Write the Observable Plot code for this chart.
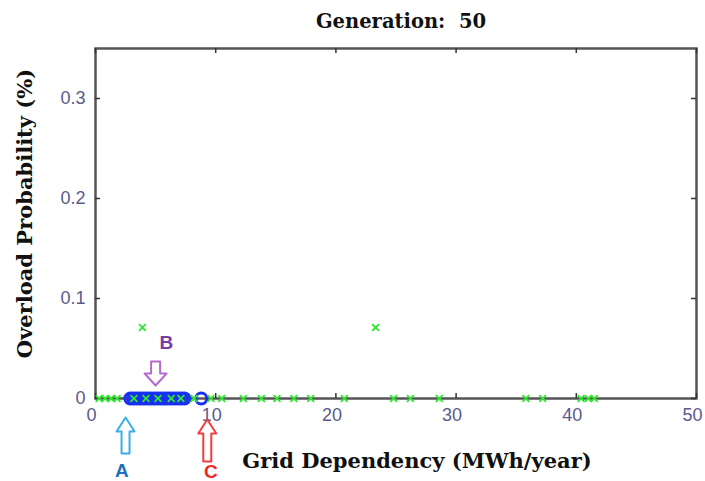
<!DOCTYPE html>
<html><head><meta charset="utf-8">
<script src="https://cdn.jsdelivr.net/npm/d3@7"></script>
<script src="https://cdn.jsdelivr.net/npm/@observablehq/plot@0.6"></script>
<style>body{margin:0;background:#fff;}</style>
</head><body><div id="chart"></div>
<script>
const titleText = "Generation:  50";
const xLabel = "Grid Dependency (MWh/year)";
const yLabel = "Overload Probability (%)";
const xTicks = [0, 10, 20, 30, 40, 50];
const yTicks = [0, 0.1, 0.2, 0.3];
const yTickLabels = ["0", "0.1", "0.2", "0.3"];
// Pareto front (blue circles), grid dependency at overload prob 0
const frontX = [2.9, 3.15, 3.4, 3.65, 3.9, 4.15, 4.4, 4.65, 4.9, 5.15, 5.4, 5.65, 5.9, 6.15, 6.4, 6.65, 6.9, 7.15, 7.4, 8.8];
const frontY = [0, 0, 0, 0, 0, 0, 0, 0, 0, 0, 0, 0, 0, 0, 0, 0, 0, 0, 0, 0];
// population (green x)
const popX = [0.3, 0.8, 1.3, 1.8, 3.2, 4.2, 5.2, 6.3, 7.1, 8.2, 9.6, 10.5, 12.3, 13.8, 15.1, 16.5, 17.9, 20.7, 24.8, 26.2, 28.6, 35.8, 37.2, 40.4, 41.0, 41.5, 3.9, 23.3];
const popY = [0, 0, 0, 0, 0, 0, 0, 0, 0, 0, 0, 0, 0, 0, 0, 0, 0, 0, 0, 0, 0, 0, 0, 0, 0, 0, 0.071, 0.071];
// annotations
const annLabels = ["A", "B", "C"];
const annLabelX = [2.2, 5.9, 9.6];
const annLabelY = [-0.072, 0.056, -0.073];
const annArrowX = [2.5, 5.0, 9.3];
const annArrowY = [-0.037, 0.025, -0.042];

const front = frontX.map((x, i) => ({x, y: frontY[i]}));
const pop = popX.map((x, i) => ({x, y: popY[i]}));
const ann = annLabels.map((t, i) => ({t, lx: annLabelX[i], ly: annLabelY[i], ax: annArrowX[i], ay: annArrowY[i]}));

function hollowArrow(shaftHalf, headHalf, headLen) {
  return {draw(ctx, l) {
    ctx.moveTo(-shaftHalf, 0);
    ctx.lineTo(-shaftHalf, -l + headLen);
    ctx.lineTo(-headHalf, -l + headLen);
    ctx.lineTo(0, -l);
    ctx.lineTo(headHalf, -l + headLen);
    ctx.lineTo(shaftHalf, -l + headLen);
    ctx.lineTo(shaftHalf, 0);
    ctx.closePath();
  }};
}
const annStyles = [
  {arrow: "#3aaee8", text: "#1f6fb8", len: 36, rotate: 0, sh: 4, hh: 9, hl: 14},
  {arrow: "#b46ccc", text: "#7a3aa8", len: 24, rotate: 180, sh: 4.5, hh: 11, hl: 12},
  {arrow: "#f03c3c", text: "#f02828", len: 42, rotate: 0, sh: 4, hh: 9, hl: 14}
];

const serif = "'DejaVu Serif', serif";
const sans = "'Liberation Sans', Arial, sans-serif";
const tickColor = "#5a5a8c";

const marks = [
  Plot.frame({stroke: "#555", strokeWidth: 2.5}),
  Plot.tickX(xTicks, {x: d => d, insetTop: 345, stroke: "#333", strokeWidth: 1.5}),
  Plot.tickX(xTicks, {x: d => d, insetBottom: 345, stroke: "#333", strokeWidth: 1.5}),
  Plot.tickY(yTicks, {y: d => d, insetRight: 596, stroke: "#333", strokeWidth: 1.5}),
  Plot.tickY(yTicks, {y: d => d, insetLeft: 596, stroke: "#333", strokeWidth: 1.5}),
  Plot.text(xTicks, {x: d => d, frameAnchor: "bottom", dy: 22, dx: -4, text: d => String(d), fill: tickColor, fontSize: 18, fontFamily: sans}),
  Plot.text(yTicks, {y: d => d, frameAnchor: "left", dx: -10, textAnchor: "end", text: (d, i) => yTickLabels[i], fill: tickColor, fontSize: 18, fontFamily: sans}),
  Plot.dot(front, {x: "x", y: "y", r: 5.5, stroke: "#1830f0", strokeWidth: 3, fill: "none"}),
  Plot.dot(pop, {x: "x", y: "y", symbol: "times", r: 3.2, stroke: "#2ee82e", strokeWidth: 1.8}),
  Plot.text([titleText], {frameAnchor: "top", dy: -34, dx: 5, text: d => d, fontFamily: serif, fontWeight: "bold", fontSize: 19.5, fill: "#111"}),
  Plot.text([xLabel], {frameAnchor: "bottom", dy: 69, dx: 21, text: d => d, fontFamily: serif, fontWeight: "bold", fontSize: 21, fill: "#111"}),
  Plot.text([yLabel], {frameAnchor: "left", textAnchor: "middle", dx: -70, dy: -10, rotate: -90, text: d => d, fontFamily: serif, fontWeight: "bold", fontSize: 21, fill: "#111"})
];
ann.forEach((a, i) => {
  const s = annStyles[i];
  marks.push(Plot.vector([a], {x: "ax", y: "ay", length: s.len, rotate: s.rotate, anchor: "middle",
    shape: hollowArrow(s.sh, s.hh, s.hl), stroke: s.arrow, strokeWidth: 2, fill: "white"}));
  marks.push(Plot.text([a], {x: "lx", y: "ly", text: "t", fill: s.text, fontWeight: "bold", fontSize: 19, fontFamily: sans}));
});

const chart = Plot.plot({
  width: 705, height: 481,
  marginTop: 48, marginBottom: 83, marginLeft: 95, marginRight: 9,
  x: {domain: [0, 50], axis: null},
  y: {domain: [0, 0.35], axis: null},
  style: {background: "#fff", overflow: "visible"},
  marks
});
document.getElementById("chart").appendChild(chart);
</script>
</body></html>
